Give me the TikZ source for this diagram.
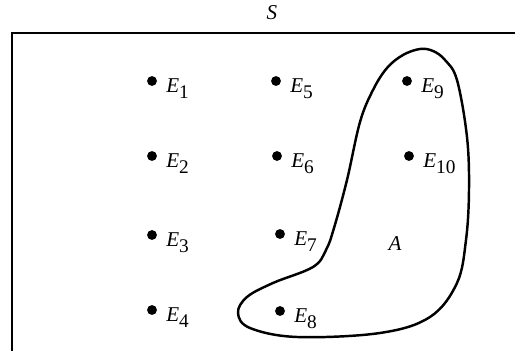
\documentclass[tikz,border=0pt]{standalone}
\usepackage{fontspec}
\setmainfont{Liberation Serif}
\newcommand{\ev}[1]{\textit{E}\raisebox{-0.6ex}{\fontsize{11}{12}\selectfont #1}}
\tikzset{
  dotpt/.style={circle,fill=black,inner sep=0pt,minimum size=5.6pt},
  evlabel/.style={anchor=base west,inner sep=0pt,font=\fontsize{12}{14}\selectfont},
  setline/.style={line width=1.4pt}
}
\begin{document}
\begin{tikzpicture}[x=0.02cm,y=-0.02cm]
	  \useasboundingbox (0,0) rectangle (515,351);
	  \draw[setline] (515,33) -- (12,33) -- (12,351);
	  \node[evlabel,anchor=base] (s) at (272,20) {\textit{S}};
	  \node[dotpt] (d1) at (152,81) {};
	  \node[dotpt] (d2) at (152,156) {};
	  \node[dotpt] (d3) at (152,235) {};
	  \node[dotpt] (d4) at (152,310) {};
	  \node[dotpt] (d5) at (276,81) {};
	  \node[dotpt] (d6) at (277,156) {};
	  \node[dotpt] (d7) at (280,234) {};
	  \node[dotpt] (d8) at (280,311) {};
	  \node[dotpt] (d9) at (407,81) {};
	  \node[dotpt] (d10) at (409,156) {};
	  \node[evlabel] (e1) at (166,93) {\ev{1}};
	  \node[evlabel] (e2) at (166,168) {\ev{2}};
	  \node[evlabel] (e3) at (166,247) {\ev{3}};
	  \node[evlabel] (e4) at (166,322) {\ev{4}};
	  \node[evlabel] (e5) at (290,93) {\ev{5}};
	  \node[evlabel] (e6) at (291,168) {\ev{6}};
	  \node[evlabel] (e7) at (294,246) {\ev{7}};
	  \node[evlabel] (e8) at (294,323) {\ev{8}};
	  \node[evlabel] (e9) at (421,93) {\ev{9}};
	  \node[evlabel] (e10) at (423,168) {\ev{10}};
	  \node[evlabel,anchor=base] (a) at (395,251) {\textit{A}};
	  \draw[setline] plot[smooth cycle,tension=0.6] coordinates {
	    (420,49) (403,55) (387,68) (373,90) (360,122) (347,180) (334,228)
	    (326,250) (313,267) (273,283) (247,297) (238,313) (250,328) (297,337)
	    (380,333) (430,317) (457,283) (466,240) (469,190) (467,137) (457,80)
	    (445,60) (433,51)};
\end{tikzpicture}
\end{document}
